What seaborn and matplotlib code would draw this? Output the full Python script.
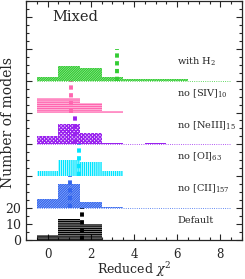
import matplotlib
matplotlib.use('Agg')
import matplotlib.pyplot as plt
import seaborn as sns
from matplotlib.ticker import MultipleLocator, FixedLocator, FuncFormatter

# Reduced chi^2 bins (unit wide, centred on integers)
bins = [0, 1, 2, 3, 4, 5, 6, 7, 8]

# Panels from bottom to top
labels = ['Default', 'no [CII]$_{157}$', 'no [OI]$_{63}$',
          'no [NeIII]$_{15}$', 'no [SIV]$_{10}$', 'with H$_2$']
counts_default = [3, 13, 10]
counts_cii = [6, 15, 4, 1]
counts_oi = [3, 10, 9, 3]
counts_neiii = [5, 13, 7, 1, 0, 1]
counts_siv = [9, 9, 6, 1]
counts_h2 = [2, 9, 8, 2, 1, 1, 1]
counts = [counts_default, counts_cii, counts_oi, counts_neiii, counts_siv, counts_h2]
mean_chi2 = [1.6, 1.05, 1.44, 1.28, 1.09, 3.2]

ytick_vals = [0, 10, 20, 40, 60, 80, 100, 120, 140]
ytick_labelled = [0, 10, 20]

colors = ['black', '#3366ee', '#00e5ff', '#9922ee', '#ff66b0', '#33cc33']
hatches = ['---------', '//////////////', '||||||||', 'xxxxxxxxx', '---------', '//////////////']
dotted = [False, True, False, True, False, True]

sns.set_style('ticks')
plt.rcParams['font.family'] = ['DejaVu Serif']
plt.rcParams['mathtext.fontset'] = 'dejavuserif'
plt.rcParams['hatch.linewidth'] = 1.0

fig = plt.figure(figsize=(2.45, 2.79), dpi=100)
ax = fig.add_axes([26/245, 39/279, 216/245, 239/279])

# each model set is stacked 20 counts above the previous one
step = 20
for i, c in enumerate(counts):
    base = i * step
    ax.bar(bins[:len(c)], c, width=1, bottom=base, facecolor='none',
           edgecolor=colors[i], hatch=hatches[i], linewidth=0)
    if dotted[i]:
        ax.hlines(base, -0.5, 8.5, colors=colors[i], linestyles=':', lw=0.6)
    ax.vlines(mean_chi2[i], base, base + step, colors=colors[i], lw=2.8,
              linestyles=(0, (1.1, 0.9)))
    ax.text(6.0, base + 12, labels[i], fontsize=7, va='center')

ax.text(0.2, 140, 'Mixed', fontsize=10.5, va='center')

ax.set_xlim(-1, 9)
ax.set_ylim(0, 150)
ax.xaxis.set_major_locator(MultipleLocator(2))
ax.xaxis.set_minor_locator(MultipleLocator(0.5))
ax.yaxis.set_major_locator(FixedLocator(ytick_vals))
ax.yaxis.set_major_formatter(FuncFormatter(
    lambda v, p: '%d' % round(v) if round(v) in ytick_labelled else ''))
ax.yaxis.set_minor_locator(MultipleLocator(5))
ax.tick_params(which='both', direction='in', top=True, right=True, width=0.8)
ax.tick_params(which='major', length=4)
ax.tick_params(which='minor', length=2.5)
ax.tick_params(axis='x', labelsize=8.5, pad=6)
ax.tick_params(axis='y', labelsize=9, pad=3.5)
for s in ax.spines.values():
    s.set_linewidth(0.9)

fig.text(134/245, 1 - 270/279, 'Reduced $\\chi^2$', fontsize=9,
         ha='center', va='center')
fig.text(8.5/245, 1 - 122/279, 'Number of models', rotation=90,
         ha='center', va='center', fontsize=10)

fig.savefig('out.png', dpi=100)
